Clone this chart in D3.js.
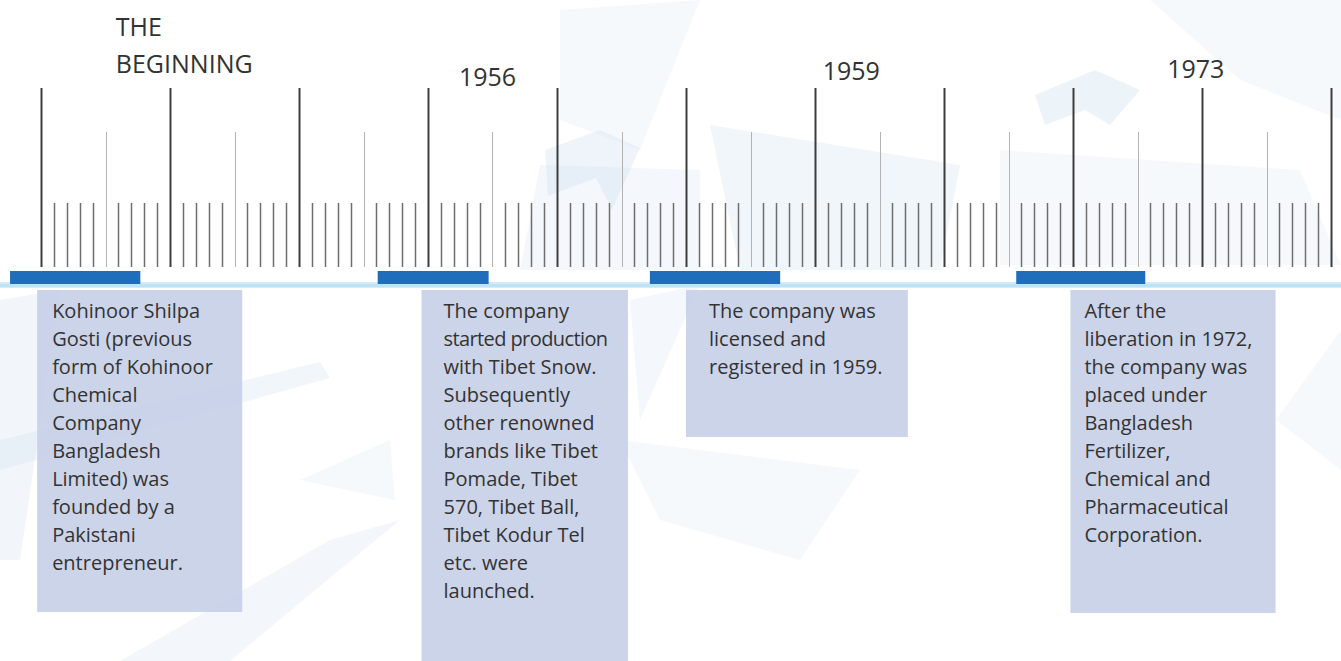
<!DOCTYPE html>
<html><head><meta charset="utf-8">
<script src="https://cdn.jsdelivr.net/npm/d3@7"></script>
<style>
html,body{margin:0;padding:0;background:#fff;overflow:hidden}
svg{display:block}
</style></head>
<body>
<svg id="c" width="1341" height="661"></svg>
<script>
// ---- data ----
const titles = [["THE","BEGINNING"],["1956"],["1959"],["1973"]];
const titlePos = [5.8, 32.4, 60.6, 87.3];        // timeline units
const barStart = [-2.4, 26.1, 47.2, 75.6];
const barEnd   = [7.7, 34.7, 57.3, 85.6];
const boxStart = [-0.3, 29.5, 50.0, 79.8];
const boxEnd   = [15.6, 45.5, 67.2, 95.7];
const descriptions = [
  ["Kohinoor Shilpa","Gosti (previous","form of Kohinoor","Chemical","Company","Bangladesh","Limited) was","founded by a","Pakistani","entrepreneur."],
  ["The company","started production","with Tibet Snow.","Subsequently","other renowned","brands like Tibet","Pomade, Tibet","570, Tibet Ball,","Tibet Kodur Tel","etc. were","launched."],
  ["The company was","licensed and","registered in 1959."],
  ["After the","liberation in 1972,","the company was","placed under","Bangladesh","Fertilizer,","Chemical and","Pharmaceutical","Corporation."]
];
const tickUnits = d3.range(0, 101);   // ruler subdivisions

// ---- layout ----
const svg = d3.select("#c");
const W = 1341, H = 661;
const x = d3.scaleLinear().domain([0, 100]).range([41, 1331]);
const baseY = 267;
const boxBottom = [612, H, 437, 613];
const textPad = [15, 22, 23, 14];

// background decoration (faint)
const bg = svg.append("g");
const shapes = [
  {p:[[0,300],[60,290],[20,560],[0,560]], o:0.28},
  {p:[[0,440],[320,362],[330,378],[0,470]], o:0.3},
  {p:[[120,661],[330,540],[400,520],[230,661]], o:0.25},
  {p:[[300,480],[390,440],[395,500]], o:0.2},
  {p:[[545,150],[600,130],[640,148],[612,210],[596,178],[548,196]], o:0.35},
  {p:[[560,10],[700,0],[640,150],[560,120]], o:0.18},
  {p:[[710,125],[960,165],[940,270],[740,270]], o:0.3},
  {p:[[540,165],[700,170],[700,270],[520,270]], o:0.22},
  {p:[[1035,95],[1095,70],[1140,90],[1110,125],[1085,110],[1045,125]], o:0.4},
  {p:[[1150,0],[1341,0],[1341,120],[1240,80]], o:0.18},
  {p:[[1000,150],[1300,170],[1341,265],[1000,265]], o:0.18},
  {p:[[620,440],[860,470],[800,560],[660,520]], o:0.18},
  {p:[[630,300],[700,285],[640,420]], o:0.22},
  {p:[[1276,420],[1341,330],[1341,470]], o:0.18}
];
bg.selectAll("polygon").data(shapes).join("polygon")
  .attr("points", d => d.p.map(q => q.join(",")).join(" "))
  .attr("fill", "#cfe0f0").attr("opacity", d => d.o);

// ruler ticks
const tg = svg.append("g");
tg.selectAll("line").data(tickUnits).join("line")
  .attr("x1", d => Math.round(x(d)) + 0.5).attr("x2", d => Math.round(x(d)) + 0.5)
  .attr("y1", d => d % 10 === 0 ? 88 : (d % 5 === 0 ? 132 : 203))
  .attr("y2", baseY)
  .attr("stroke", d => d % 10 === 0 ? "#3d3d3d" : (d % 5 === 0 ? "#b3b3b3" : "#6e6e6e"))
  .attr("stroke-width", d => d % 10 === 0 ? 2 : (d % 5 === 0 ? 1 : 1.5));

// base line
svg.append("rect").attr("x", 0).attr("y", 282).attr("width", W).attr("height", 6)
  .attr("fill", "#d4ecf8");
svg.append("rect").attr("x", 0).attr("y", 284).attr("width", W).attr("height", 3)
  .attr("fill", "#bfe3f6");

// boxes
const idx = d3.range(descriptions.length);
svg.append("g").selectAll("rect").data(idx).join("rect")
  .attr("x", i => x(boxStart[i])).attr("y", 290)
  .attr("width", i => x(boxEnd[i]) - x(boxStart[i]))
  .attr("height", i => boxBottom[i] - 290)
  .attr("fill", "#c3cce6").attr("opacity", 0.85);

// blue bars
svg.append("g").selectAll("rect").data(idx).join("rect")
  .attr("x", i => x(barStart[i])).attr("y", 271)
  .attr("width", i => x(barEnd[i]) - x(barStart[i])).attr("height", 13)
  .attr("fill", "#1f6dbb");

// descriptions
const dg = svg.append("g").attr("font-family", "'Open Sans', sans-serif")
  .attr("font-size", 20).attr("fill", "#333");
idx.forEach(i => {
  const tx = x(boxStart[i]) + textPad[i];
  const t = dg.append("text").attr("x", tx).attr("y", 318);
  t.selectAll("tspan").data(descriptions[i]).join("tspan")
    .attr("x", tx)
    .attr("dy", (d, k) => k === 0 ? 0 : 28)
    .attr("letter-spacing", d => d === "started production" ? -0.6 : 0)
    .text(d => d);
});

// titles
const titleY = [[36, 73], [86], [80], [78]];
const tt = svg.append("g").attr("font-family", "'Open Sans', sans-serif")
  .attr("fill", "#333");
idx.forEach(i => {
  titles[i].forEach((s, k) => {
    tt.append("text").attr("x", x(titlePos[i])).attr("y", titleY[i][k])
      .attr("font-size", 25).text(s);
  });
});
</script>
</body></html>
